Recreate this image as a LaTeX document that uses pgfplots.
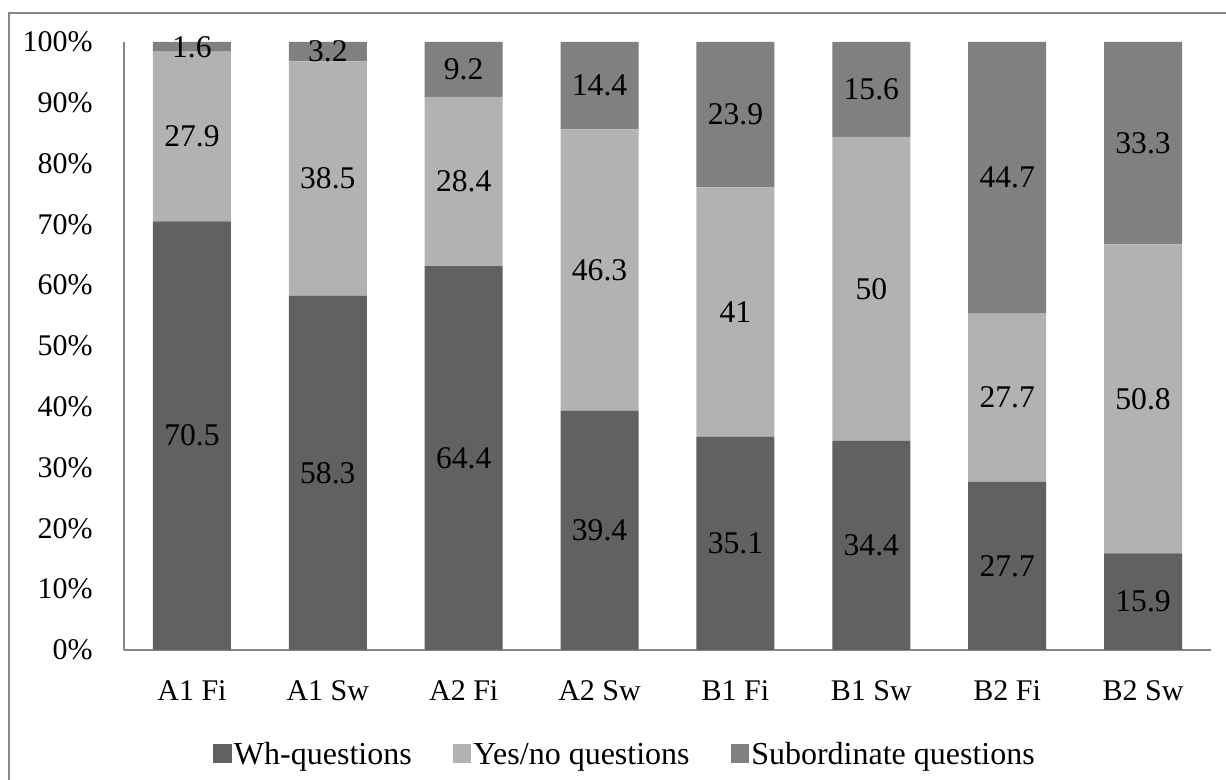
\documentclass[border=0pt]{standalone}
\usepackage{pgfplots}
\pgfplotsset{compat=1.18}
\usepackage{pgfplotstable}
\usepackage{fontspec}
\setmainfont{Liberation Serif}
\definecolor{cwh}{RGB}{97,97,97}
\definecolor{cyn}{RGB}{178,178,178}
\definecolor{csub}{RGB}{128,128,128}
\definecolor{axgray}{RGB}{134,134,134}
\pgfplotstableread{
x wh yn sub
0 70.5 27.9 1.6
1 58.3 38.5 3.2
2 64.4 28.4 9.2
3 39.4 46.3 14.4
4 35.1 41 23.9
5 34.4 50 15.6
6 27.7 27.7 44.7
7 15.9 50.8 33.3
}\data
\pgfplotsset{
  common/.style={
    at={(62bp,65bp)}, anchor=south west,
    scale only axis, width=543.5bp, height=304bp,
    xmin=-0.5, xmax=7.5, ymin=0, ymax=100,
    enlargelimits=false,
    /pgf/number format/assume math mode=true,
  },
  lab/.style={draw=none, mark=none, nodes near coords={\pgfplotspointmeta},
    point meta=explicit symbolic,
    every node near coord/.append style={anchor=center, inner sep=0pt, text=black,
      font=\fontsize{15.8bp}{19bp}\selectfont}},
}
\begin{document}
\begin{tikzpicture}[font=\fontsize{15bp}{18bp}\selectfont]
\path[use as bounding box] (0,0) rectangle (613bp,390bp);
\draw[axgray, line width=1bp] (4.5bp,0) -- (4.5bp,383.5bp) -- (613bp,383.5bp);
\begin{axis}[
  common,
  ybar stacked, bar width=0.574,
  axis lines=left, axis line style={-, draw=axgray, line width=0.75bp},
  major tick length=0pt,
  xtick={0,...,7},
  xticklabels={A1 Fi, A1 Sw, A2 Fi, A2 Sw, B1 Fi, B1 Sw, B2 Fi, B2 Sw},
  ytick={0,10,...,100},
  yticklabels={0\%,10\%,20\%,30\%,40\%,50\%,60\%,70\%,80\%,90\%,100\%},
  xticklabel style={anchor=north, inner sep=0pt, yshift=-15bp},
  yticklabel style={anchor=east, inner sep=0pt, xshift=-15.5bp},
  legend style={at={(0.461,-0.1727)}, anchor=center, draw=none, fill=none,
    legend columns=-1, inner sep=0pt,
    /tikz/every even column/.append style={column sep=19.5bp},
    nodes={inner sep=1bp, font=\fontsize{16bp}{19bp}\selectfont}},
  legend image code/.code={\fill[#1] (0bp,-4bp) rectangle (9.3bp,5.3bp);},
]
\addplot[fill=cwh, draw=none] table[x=x, y expr={100*\thisrow{wh}/(\thisrow{wh}+\thisrow{yn}+\thisrow{sub})}]{\data};
\addplot[fill=cyn, draw=none] table[x=x, y expr={100*\thisrow{yn}/(\thisrow{wh}+\thisrow{yn}+\thisrow{sub})}]{\data};
\addplot[fill=csub, draw=none] table[x=x, y expr={100*\thisrow{sub}/(\thisrow{wh}+\thisrow{yn}+\thisrow{sub})}]{\data};
\legend{Wh-questions, Yes/no questions, Subordinate questions}
\end{axis}
\begin{axis}[common, hide axis, clip=false]
\addplot[lab] table[x=x, meta=wh, y expr={50*\thisrow{wh}/(\thisrow{wh}+\thisrow{yn}+\thisrow{sub})}]{\data};
\addplot[lab] table[x=x, meta=yn, y expr={100*(\thisrow{wh}+0.5*\thisrow{yn})/(\thisrow{wh}+\thisrow{yn}+\thisrow{sub})}]{\data};
\addplot[lab] table[x=x, meta=sub, y expr={100*(\thisrow{wh}+\thisrow{yn}+0.5*\thisrow{sub})/(\thisrow{wh}+\thisrow{yn}+\thisrow{sub})}]{\data};
\end{axis}
\end{tikzpicture}
\end{document}
